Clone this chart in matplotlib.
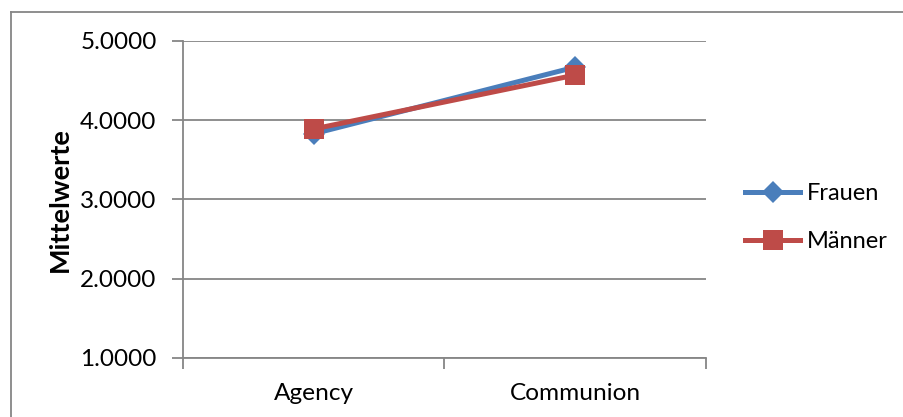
import matplotlib
matplotlib.use("Agg")
import matplotlib.pyplot as plt

categories = ["Agency", "Communion"]
frauen = [3.83, 4.67]
maenner = [3.89, 4.57]
series_names = ["Frauen", "Männer"]
yticks = [1.0, 2.0, 3.0, 4.0, 5.0]

plt.rcParams["font.family"] = ["Lato", "DejaVu Sans"]

fig = plt.figure(figsize=(9.04, 4.17), dpi=100)
ax = fig.add_axes([0.2024, 0.1415, 0.5785, 0.7602])

grey = "#868686"
blue = "#4A7EBB"
red = "#BE4B48"

x = [0.5, 1.5]
ax.plot(x, frauen, color=blue, lw=3.6, marker="D", ms=11,
        markeredgewidth=0, label=series_names[0], zorder=3)
ax.plot(x, maenner, color=red, lw=3.6, marker="s", ms=14,
        markeredgewidth=0, label=series_names[1], zorder=4)

ax.set_xlim(0, 2)
ax.set_ylim(1, 5)
ax.set_yticks(yticks)
ax.set_yticklabels([f"{v:.4f}" for v in yticks])
ax.yaxis.grid(True, color=grey, lw=1.3)
ax.set_axisbelow(True)

ax.set_xticks([0, 1, 2])
ax.set_xticklabels([])
ax.set_xticks(x, minor=True)
ax.set_xticklabels(categories, minor=True)
ax.tick_params(axis="x", which="minor", length=0, pad=18, labelsize=17.6)
ax.tick_params(axis="x", which="major", length=8, width=1.3, color=grey,
               direction="out")
ax.tick_params(axis="y", length=8, width=1.3, color=grey, direction="out",
               labelsize=17.5, pad=11)

for side in ["top", "right"]:
    ax.spines[side].set_visible(False)
for side in ["left", "bottom"]:
    ax.spines[side].set_color(grey)
    ax.spines[side].set_linewidth(1.3)

ax.set_ylabel("Mittelwerte", fontsize=19.5, fontweight="bold", labelpad=6)

fig.legend(loc="center left", bbox_to_anchor=(745 / 904, 0.478), frameon=False,
           fontsize=17, handlelength=2.35, labelspacing=1.15,
           handletextpad=0.25, borderpad=0, borderaxespad=0)

# chart area frame (left and top edges)
fig.add_artist(plt.Line2D([10.5 / 904, 10.5 / 904], [0, 1 - 12 / 417],
                          transform=fig.transFigure, color=grey, lw=1.3))
fig.add_artist(plt.Line2D([10.5 / 904, 1], [1 - 12 / 417, 1 - 12 / 417],
                          transform=fig.transFigure, color=grey, lw=1.3))

fig.savefig("out.png", dpi=100)
